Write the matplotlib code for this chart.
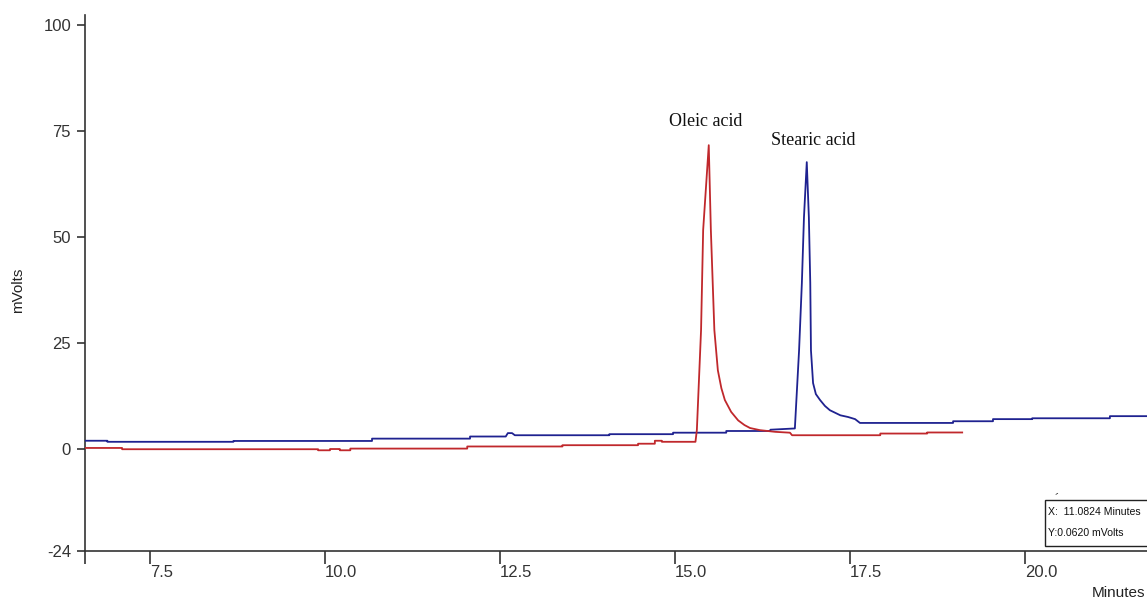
import matplotlib
matplotlib.use("Agg")
import matplotlib.pyplot as plt
from matplotlib.patches import Rectangle

# Retention time (min) and detector signal (mV) for each standard run
oleic_time = [6.57, 7.10, 7.10, 9.90, 9.90, 10.07, 10.07, 10.21, 10.21, 10.36, 10.36,
              12.03, 12.03, 13.39, 13.39, 14.47, 14.47, 14.71, 14.71, 14.81, 14.81,
              15.29, 15.31, 15.37, 15.40, 15.48, 15.51, 15.56, 15.61, 15.66, 15.71,
              15.80, 15.90, 15.99, 16.07, 16.21, 16.43, 16.64, 16.67, 17.93, 17.93,
              18.60, 18.60, 19.10]
oleic_mv = [0.30, 0.30, 0.00, 0.00, -0.25, -0.25, 0.05, 0.05, -0.25, -0.25, 0.15,
            0.15, 0.65, 0.65, 0.95, 0.95, 1.30, 1.30, 2.00, 2.00, 1.75,
            1.75, 4.5, 28.1, 51.7, 71.7, 51.7, 28.1, 18.6, 14.4, 11.6,
            8.8, 6.8, 5.7, 5.0, 4.5, 4.1, 3.9, 3.3, 3.3, 3.7,
            3.7, 3.95, 3.95]

stearic_time = [6.57, 6.89, 6.89, 8.69, 8.69, 10.67, 10.67, 12.07, 12.07, 12.58,
                12.61, 12.67, 12.71, 14.06, 14.06, 14.97, 14.97, 15.73, 15.73,
                16.36, 16.36, 16.71, 16.77, 16.81, 16.84, 16.88, 16.91, 16.93,
                16.94, 16.97, 17.01, 17.07, 17.14, 17.21, 17.36, 17.47, 17.57,
                17.64, 18.97, 18.97, 19.54, 19.54, 20.10, 20.10, 21.21, 21.21, 21.74]
stearic_mv = [2.00, 2.00, 1.75, 1.75, 1.95, 1.95, 2.50, 2.50, 3.00, 3.00,
              3.80, 3.80, 3.30, 3.30, 3.55, 3.55, 3.90, 3.90, 4.30,
              4.30, 4.60, 4.90, 23.3, 39.2, 54.7, 67.7, 54.7, 39.2,
              23.3, 15.6, 13.0, 11.6, 10.2, 9.2, 8.0, 7.6, 7.1,
              6.2, 6.2, 6.6, 6.6, 7.1, 7.1, 7.3, 7.3, 7.8, 7.8]

peak_labels = ["Oleic acid", "Stearic acid"]
peak_label_pos = [(15.43, 77.4), (16.97, 72.9)]

y_ticks = [-24, 0, 25, 50, 75, 100]
x_ticks = [7.5, 10.0, 12.5, 15.0, 17.5, 20.0]
x_tick_labels = ["7.5", "10.0", "12.5", "15.0", "17.5", "20.0"]

cursor_lines = ["X:  11.0824 Minutes", "Y:0.0620 mVolts"]

W, H = 1147, 602
fig = plt.figure(figsize=(W / 100, H / 100), dpi=100)
fig.patch.set_facecolor("white")

ax_left, ax_bottom_px, ax_top_px = 85, 551, 15
ax = fig.add_axes([ax_left / W, (H - ax_bottom_px) / H,
                   (W - ax_left) / W, (ax_bottom_px - ax_top_px) / H])
ax.set_facecolor("none")

ax.plot(stearic_time, stearic_mv, color="#1f2290", lw=1.3, zorder=3)
ax.plot(oleic_time, oleic_mv, color="#c0282c", lw=1.3, zorder=4)

ax.set_xlim(6.57, 21.74)
ax.set_ylim(-24, 102.4)

for name, (tx, ty) in zip(peak_labels, peak_label_pos):
    ax.text(tx, ty, name, family="Liberation Serif", fontsize=13,
            ha="center", va="center", color="#111111")

for side in ("top", "right"):
    ax.spines[side].set_visible(False)
for side in ("left", "bottom"):
    ax.spines[side].set_color("#333333")
    ax.spines[side].set_linewidth(1.2)

tick_font = dict(family="Liberation Sans", size=12)
ax.set_yticks(y_ticks)
ax.set_yticklabels([str(v) for v in y_ticks], **tick_font, color="#222222")
ax.tick_params(axis="y", length=6, width=1.2, pad=4, colors="#333333")

ax.set_xticks([6.57] + x_ticks)
ax.set_xticklabels([""] + x_tick_labels, **tick_font, color="#222222")
ax.tick_params(axis="x", length=9, width=1.2, pad=1, colors="#333333")
for lbl in ax.get_xticklabels():
    lbl.set_horizontalalignment("left")

fig.text(18 / W, 1 - 290 / H, "mVolts", rotation=90, ha="center", va="center",
         family="Liberation Sans", fontsize=11, color="#222222")
fig.text(1145 / W, 1 - 593 / H, "Minutes", ha="right", va="center",
         family="Liberation Sans", fontsize=11, color="#222222")

# cursor readout box
box_l, box_t, box_b = 1045, 500, 546
fig.patches.append(Rectangle((box_l / W, 1 - box_b / H), (W - box_l + 5) / W,
                             (box_b - box_t) / H, transform=fig.transFigure,
                             facecolor="white", edgecolor="#222222", lw=1.0,
                             zorder=5))
for i, line in enumerate(cursor_lines):
    fig.text((box_l + 3) / W, 1 - (512 + i * 21) / H, line, ha="left",
             va="center", family="Liberation Sans", fontsize=7.6,
             color="#111111", zorder=6)
fig.text(1057 / W, 1 - 493 / H, "-", ha="center", va="center", fontsize=7,
         rotation=30, color="#222222")

fig.savefig("out.png", dpi=100)
